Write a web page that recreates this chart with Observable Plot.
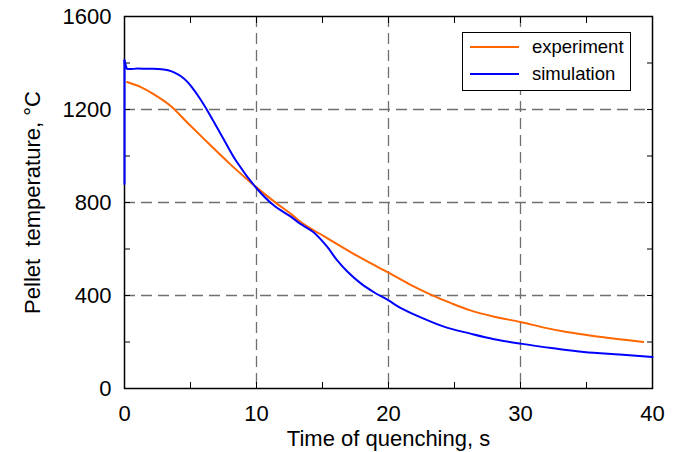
<!DOCTYPE html>
<html>
<head>
<meta charset="utf-8">
<script src="https://cdn.jsdelivr.net/npm/d3@7"></script>
<script src="https://cdn.jsdelivr.net/npm/@observablehq/plot@0.6"></script>
<style>
  html, body { margin: 0; padding: 0; background: #fff; }
  #wrap { position: relative; width: 675px; height: 452px; font-family: "Liberation Sans", Arial, sans-serif; }
  #legend { position: absolute; left: 462px; top: 32px; width: 169px; height: 59px; border: 1.4px solid #000; background: #fff; box-sizing: border-box; font-size: 18.5px; }
  .row { position: absolute; left: 0; height: 24px; display: flex; align-items: center; }
  .row svg { margin-left: 7px; margin-right: 13px; }
</style>
</head>
<body>
<div id="wrap"></div>
<script>
const timeExp = [0.2, 1.2, 2.2, 3.5, 4.75, 6.3, 8.0, 10.0, 11.3, 12.6, 13.3, 14.0, 15.1, 16.4, 17.6, 18.6, 20.0, 21.6, 23.2, 24.7, 26.2, 28.0, 30.0, 31.7, 33.5, 35.5, 37.5, 39.3];
const tempExp = [1318, 1297, 1266, 1215, 1144, 1058, 965, 865, 806, 751, 718, 692, 655, 611, 571, 540, 498, 448, 404, 368, 336, 309, 286, 263, 243, 226, 212, 200];
const timeSim = [0, 0, 0.15, 1, 2, 2.8, 3.3, 3.75, 4.25, 4.75, 5.1, 5.75, 6.25, 7.3, 8.5, 10.05, 11.3, 12.6, 13.3, 14.3, 15.35, 16.1, 16.9, 17.9, 18.9, 20.0, 20.9, 22.4, 24.2, 26.2, 28.0, 30.0, 32.5, 34.8, 37.5, 40];
const tempSim = [880, 1412, 1377, 1376, 1375, 1373, 1369, 1360, 1344, 1320, 1296, 1244, 1198, 1094, 975, 858, 788, 739, 709, 673, 610, 552, 502, 452, 414, 379, 347, 307, 266, 236, 212, 193, 173, 157, 146, 136];
const seriesNames = ["experiment", "simulation"];
const seriesColors = ["#ff6600", "#0000ff"];
const xMajor = [0, 10, 20, 30, 40];
const xMinor = [5, 15, 25, 35];
const xGrid = [10, 20, 30];
const yMajor = [0, 400, 800, 1200, 1600];
const yMinor = [200, 600, 1000, 1400];
const yGrid = [400, 800, 1200];

const expData = timeExp.map((t, i) => ({t, T: tempExp[i]}));
const simData = timeSim.map((t, i) => ({t, T: tempSim[i]}));
const simJump = simData.slice(0, 3);
const simRest = simData.slice(1);

const tickOpts = {tickFormat: () => "", tickSize: -6, stroke: "#000"};
const chart = Plot.plot({
  width: 675, height: 452,
  marginLeft: 124, marginRight: 23, marginTop: 16, marginBottom: 64,
  style: {fontFamily: "Liberation Sans, Arial, sans-serif", fontSize: "22px", color: "#000", background: "#fff"},
  x: {domain: [0, 40]},
  y: {domain: [0, 1600]},
  marks: [
    Plot.gridX(xGrid, {stroke: "#707070", strokeOpacity: 1, strokeWidth: 1.3, strokeDasharray: "11,6"}),
    Plot.gridY(yGrid, {stroke: "#707070", strokeOpacity: 1, strokeWidth: 1.3, strokeDasharray: "11,6"}),
    Plot.axisX([...xMajor, ...xMinor], {anchor: "bottom", ...tickOpts, label: null}),
    Plot.axisX([...xMajor, ...xMinor], {anchor: "top", ...tickOpts, label: null}),
    Plot.axisY([...yMajor, ...yMinor], {anchor: "left", ...tickOpts, label: null}),
    Plot.axisY([...yMajor, ...yMinor], {anchor: "right", ...tickOpts, label: null}),
    Plot.axisX(xMajor, {anchor: "bottom", tickSize: 0, tickPadding: 17, tickFormat: d => String(d), label: "Time of quenching, s", labelAnchor: "center", labelArrow: "none", labelOffset: 57}),
    Plot.axisY(yMajor, {anchor: "left", tickSize: 0, tickPadding: 13, tickFormat: d => String(d), label: "Pellet  temperature, °C", labelAnchor: "center", labelArrow: "none", labelOffset: 100}),
    Plot.frame({stroke: "#000", strokeWidth: 1.5}),
    Plot.line(expData, {x: "t", y: "T", stroke: seriesColors[0], strokeWidth: 2, curve: "catmull-rom"}),
    Plot.line(simJump, {x: "t", y: "T", stroke: seriesColors[1], strokeWidth: 2, curve: "linear"}),
    Plot.line(simRest, {x: "t", y: "T", stroke: seriesColors[1], strokeWidth: 2, curve: "catmull-rom"})
  ]
});
const wrap = document.getElementById("wrap");
wrap.appendChild(chart);
const legend = document.createElement("div");
legend.id = "legend";
seriesNames.forEach((name, i) => {
  const row = document.createElement("div");
  row.className = "row";
  row.style.top = (2 + i * 27) + "px";
  row.innerHTML = `<svg width="49" height="4"><line x1="0" y1="2" x2="49" y2="2" stroke="${seriesColors[i]}" stroke-width="2"/></svg><span>${name}</span>`;
  legend.appendChild(row);
});
wrap.appendChild(legend);
</script>
</body>
</html>
